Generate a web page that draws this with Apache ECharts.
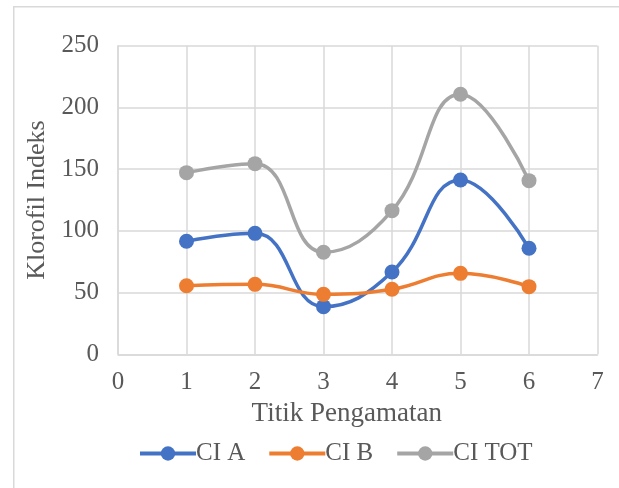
<!DOCTYPE html>
<html><head><meta charset="utf-8">
<script src="https://cdn.jsdelivr.net/npm/echarts@6/dist/echarts.min.js"></script>
<style>html,body{margin:0;padding:0;background:#fff}#c{width:619px;height:488px}</style>
</head><body><div id="c"></div>
<script>
const categories = [1, 2, 3, 4, 5, 6];
const ciA = [91.6, 98, 38.6, 66.7, 141.2, 85.9];
const ciB = [55.6, 56.7, 48.6, 52.7, 65.6, 54.8];
const ciTot = [147.2, 154.5, 82.7, 116.4, 210.7, 140.7];
const seriesNames = ['CI A', 'CI B', 'CI TOT'];
const xTicks = [0, 7, 1];
const yTicks = [0, 250, 50];

const font = '"Liberation Serif", "Times New Roman", serif';
const txt = '#595959';
const colors = ['#4472C4', '#ED7D31', '#A5A5A5'];
const pairs = arr => categories.map((c, i) => [c, arr[i]]);

const chart = echarts.init(document.getElementById('c'), null, {renderer: 'canvas'});
chart.setOption({
  animation: false,
  color: colors,
  textStyle: {fontFamily: font},
  graphic: [{
    type: 'rect', left: 13, top: 6, z: -10,
    shape: {width: 620, height: 500},
    style: {fill: '#fff', stroke: '#d9d9d9', lineWidth: 1.5}
  }],
  grid: {left: 118, right: 21.5, top: 45.8, bottom: 133.7, containLabel: false},
  legend: {
    top: 436, left: 133,
    itemWidth: 56, itemHeight: 18, itemGap: 22,
    lineStyle: {width: 4},
    textStyle: {fontFamily: font, fontSize: 25, color: txt, padding: [0, 0, 0, -5]},
    data: seriesNames
  },
  xAxis: {
    type: 'value', min: xTicks[0], max: xTicks[1], interval: xTicks[2],
    name: 'Titik Pengamatan', nameLocation: 'middle', nameGap: 41,
    nameTextStyle: {fontFamily: font, fontSize: 27, color: txt, padding: [0, 22, 0, 0]},
    axisLine: {show: true, lineStyle: {color: '#d9d9d9', width: 1.5}},
    axisTick: {show: false},
    axisLabel: {fontFamily: font, fontSize: 25, color: txt, margin: 16},
    splitLine: {show: true, lineStyle: {color: '#d9d9d9', width: 1.5}}
  },
  yAxis: {
    type: 'value', min: yTicks[0], max: yTicks[1], interval: yTicks[2],
    name: 'Klorofil Indeks', nameLocation: 'middle', nameGap: 66,
    nameTextStyle: {fontFamily: font, fontSize: 26, color: txt},
    axisLine: {show: true, lineStyle: {color: '#d9d9d9', width: 1.5}},
    axisTick: {show: false},
    axisLabel: {fontFamily: font, fontSize: 25, color: txt, margin: 19},
    splitLine: {show: true, lineStyle: {color: '#d9d9d9', width: 1.5}}
  },
  series: [ciA, ciB, ciTot].map((d, i) => ({
    name: seriesNames[i], type: 'line', data: pairs(d),
    smooth: 0.45, symbol: 'circle', symbolSize: 15,
    lineStyle: {width: 3.5, color: colors[i]},
    itemStyle: {color: colors[i]}
  }))
});
</script></body></html>
